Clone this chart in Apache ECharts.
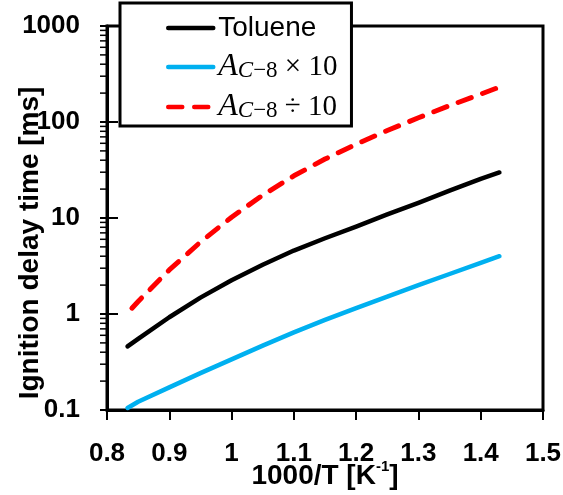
<!DOCTYPE html>
<html><head><meta charset="utf-8">
<script src="https://cdn.jsdelivr.net/npm/echarts@6/dist/echarts.min.js"></script>
<style>html,body{margin:0;padding:0;background:#fff}#c{width:563px;height:495px}</style>
</head><body><div id="c"></div>
<script>
// ---- data ----
const xMin = 0.8, xMax = 1.5, xStep = 0.1;
const yMin = 0.1, yMax = 1000;
const toluene = [[0.833,0.46],[0.85,0.551],[0.9,0.925],[0.95,1.48],[1.0,2.25],[1.05,3.26],[1.1,4.58],[1.15,6.15],[1.2,8.15],[1.25,10.9],[1.3,14.4],[1.35,19.3],[1.4,25.6],[1.43,29.8]];
const acTimes10 = [[0.833,0.105],[0.85,0.122],[0.9,0.172],[0.95,0.242],[1.0,0.337],[1.05,0.468],[1.1,0.643],[1.15,0.867],[1.2,1.153],[1.25,1.52],[1.3,1.995],[1.35,2.61],[1.4,3.41],[1.43,4.0]];
const acDiv10 = [[0.84,1.15],[0.85,1.35],[0.9,2.88],[0.95,5.61],[1.0,10.2],[1.05,17.3],[1.1,27.5],[1.15,41.1],[1.2,58.7],[1.25,81.5],[1.3,110.7],[1.35,148],[1.4,195],[1.43,231]];
const seriesNames = ['Toluene', 'AC8x10', 'AC8d10'];
const legendLabels = {
  'Toluene': 'Toluene',
  'AC8x10': '{A|A}{Ci|C}{sub|−8}{op| × 10}',
  'AC8d10': '{A|A}{Ci|C}{sub|−8}{op| ÷ 10}'
};
const yMajorInside = [1, 10, 100, 1000];
const yDecades = [0.1, 1, 10, 100];
const yMinorMult = [2, 3, 4, 5, 6, 7, 8, 9];
const xName = '1000/T [K{sup|-1}]';
const yName = 'Ignition delay time [ms]';

// ---- build ----
const minorData = [];
yDecades.forEach(d => yMinorMult.forEach(m => minorData.push([xMin, +(d*m).toPrecision(3)])));
const insideData = yMajorInside.map(v => [xMin, v]);

const FONT = 'Liberation Sans, Arial, sans-serif';
const SERIF = 'Liberation Serif, DejaVu Serif, serif';

function tickRender(x0off, x1off, lw) {
  return function (params, api) {
    const p = api.coord([api.value(0), api.value(1)]);
    return { type: 'line', shape: { x1: p[0] + x0off, y1: p[1], x2: p[0] + x1off, y2: p[1] },
             style: { stroke: '#000', lineWidth: lw } };
  };
}

const chart = echarts.init(document.getElementById('c'), null, { renderer: 'canvas' });
chart.setOption({
  animation: false,
  backgroundColor: '#fff',
  grid: { left: 107, right: 20, top: 26, bottom: 85, outerBoundsMode: 'none', containLabel: false,
          show: true, borderColor: '#000', borderWidth: 3, backgroundColor: 'transparent' },
  legend: {
    data: seriesNames,
    orient: 'vertical',
    left: 120, top: 3,
    padding: [10, 14, 3, 46],
    itemWidth: 45, itemHeight: 14, itemGap: 8,
    backgroundColor: '#fff', borderColor: '#000', borderWidth: 3, borderRadius: 0,
    itemStyle: { opacity: 0 },
    lineStyle: { width: 4.5, cap: 'round' },
    z: 10,
    formatter: n => legendLabels[n],
    textStyle: {
      fontFamily: FONT, fontSize: 28, color: '#000', lineHeight: 30,
      rich: {
        A: { fontFamily: SERIF, fontStyle: 'italic', fontSize: 32, color: '#000', lineHeight: 30 },
        Ci: { fontFamily: SERIF, fontStyle: 'italic', fontSize: 23, color: '#000', verticalAlign: 'bottom', lineHeight: 22 },
        sub: { fontFamily: SERIF, fontSize: 23, color: '#000', verticalAlign: 'bottom', lineHeight: 22 },
        op: { fontFamily: SERIF, fontSize: 29, color: '#000', lineHeight: 30 }
      }
    }
  },
  xAxis: {
    type: 'value', min: xMin, max: xMax, interval: xStep,
    name: xName, nameLocation: 'middle', nameGap: 49, nameMoveOverlap: false,
    nameTextStyle: { fontFamily: FONT, fontSize: 28, fontWeight: 'bold', color: '#000', lineHeight: 34,
      rich: { sup: { fontFamily: FONT, fontSize: 15, fontWeight: 'bold', color: '#000', verticalAlign: 'top', lineHeight: 15 } } },
    axisLine: { show: true, onZero: false, lineStyle: { color: '#000', width: 3 } },
    axisTick: { show: true, inside: false, length: 10, lineStyle: { color: '#000', width: 2 } },
    axisLabel: { fontFamily: FONT, fontSize: 26, fontWeight: 'bold', color: '#000', margin: 31,
      formatter: v => String(Math.round(v * 10) / 10) },
    splitLine: { show: false }
  },
  yAxis: {
    type: 'log', logBase: 10, min: yMin, max: yMax,
    name: yName + '{sp|}', nameLocation: 'middle', nameGap: 63, nameMoveOverlap: false,
    nameTextStyle: { fontFamily: FONT, fontSize: 28, fontWeight: 'bold', color: '#000',
      rich: { sp: { width: 50, fontSize: 28 } } },
    axisLine: { show: true, onZero: false, lineStyle: { color: '#000', width: 3 } },
    axisTick: { show: true, inside: false, length: 7, lineStyle: { color: '#000', width: 2 } },
    axisLabel: { fontFamily: FONT, fontSize: 26, fontWeight: 'bold', color: '#000', margin: 27,
      formatter: v => String(+(+v).toPrecision(3)) },
    splitLine: { show: false },
    minorTick: { show: false }
  },
  series: [
    { name: seriesNames[0], type: 'line', data: toluene, smooth: false, symbol: 'none',
      lineStyle: { color: '#000', width: 4.5, cap: 'round', join: 'round' }, itemStyle: { color: '#000' }, z: 3 },
    { name: seriesNames[1], type: 'line', data: acTimes10, smooth: false, symbol: 'none',
      lineStyle: { color: '#00B0F0', width: 4.5, cap: 'round', join: 'round' }, itemStyle: { color: '#00B0F0' }, z: 3 },
    { name: seriesNames[2], type: 'line', data: acDiv10, smooth: false, symbol: 'none',
      lineStyle: { color: '#FF0000', width: 5, type: [14, 12], cap: 'round', join: 'round' }, itemStyle: { color: '#FF0000' }, z: 3 },
    { name: 'minorTicks', type: 'custom', data: minorData, renderItem: tickRender(-7, 0, 1.5), silent: true, clip: false, z: 4 },
    { name: 'majorInside', type: 'custom', data: insideData, renderItem: tickRender(0, 11, 2), silent: true, clip: false, z: 4 }
  ]
});
</script></body></html>
